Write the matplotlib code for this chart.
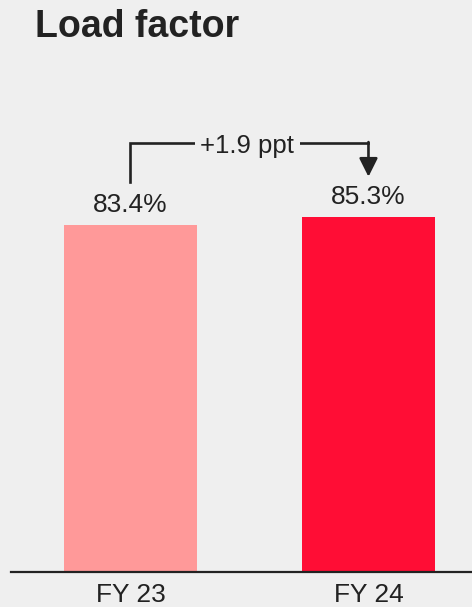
import matplotlib.pyplot as plt

plt.rcParams['font.family'] = ['Liberation Sans', 'DejaVu Sans']

# load factor by fiscal year (%)
years = ['FY 23', 'FY 24']
load_factor = [83.4, 85.3]
bar_colors = ['#ff9999', '#ff0d35']
change_label = '+1.9 ppt'

ink = '#222222'
bg = '#efefef'

fig = plt.figure(figsize=(4.72, 6.07), dpi=100, facecolor=bg)
# axes: baseline at y=572px, spans x 11..472px
ax = fig.add_axes([11 / 472, 35 / 607, 461 / 472, 572 / 607])
ax.set_facecolor(bg)

px_per_unit = 4.165
ax.set_ylim(0, 572 / px_per_unit)
ax.set_xlim(-0.502, 1.435)

x = list(range(len(years)))
ax.bar(x, load_factor, width=0.559, color=bar_colors, zorder=2)

for xi, v in zip(x, load_factor):
    ax.annotate(f'{v:.1f}%', (xi, v), xytext=(0, 9.4), textcoords='offset points',
                ha='center', va='baseline', fontsize=19, color=ink)

# change bracket from FY 23 to FY 24
top = max(load_factor) + 17.7
start = load_factor[0] + 10.2
tip = load_factor[1] + 9.6
ax.plot([x[0], x[0], x[1]], [start, top, top], color=ink, lw=1.9,
        solid_joinstyle='miter', zorder=3)
ax.annotate('', xy=(x[1], tip), xytext=(x[1], top + 0.22),
            arrowprops=dict(arrowstyle='-|>,head_length=0.56,head_width=0.28',
                            mutation_scale=20, color=ink, lw=1.9,
                            shrinkA=0, shrinkB=0), zorder=3)
ax.text((x[0] + x[1]) / 2 - 0.01, top, change_label, ha='center',
        va='center_baseline', fontsize=18.5, color=ink, zorder=4,
        bbox=dict(boxstyle='square,pad=0.22', fc=bg, ec='none'))

ax.set_xticks(x)
ax.set_xticklabels(years, fontsize=19, color=ink)
ax.tick_params(axis='x', length=0, pad=8)
ax.set_yticks([])
for side in ['left', 'right', 'top']:
    ax.spines[side].set_visible(False)
ax.spines['bottom'].set_color(ink)
ax.spines['bottom'].set_linewidth(1.6)
ax.spines['bottom'].set_zorder(5)

fig.text(35 / 472, 1 - 37 / 607, 'Load factor', fontsize=27, fontweight='bold',
         color=ink, ha='left', va='baseline')

fig.savefig('out.png', dpi=100, facecolor=bg)
